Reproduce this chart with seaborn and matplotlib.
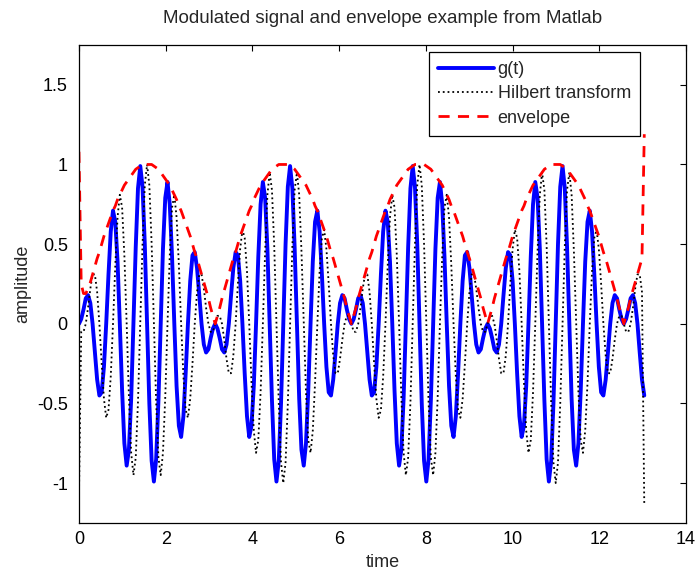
import matplotlib
matplotlib.use("Agg")
import matplotlib.pyplot as plt
import seaborn as sns

# sample times
t = [0.000, 0.052, 0.105, 0.157, 0.209, 0.262, 0.314, 0.367, 0.419, 0.471, 0.524, 0.576,
     0.628, 0.681, 0.733, 0.785, 0.838, 0.890, 0.942, 0.995, 1.047, 1.100, 1.152, 1.204,
     1.257, 1.309, 1.361, 1.414, 1.466, 1.518, 1.571, 1.623, 1.676, 1.728, 1.780, 1.833,
     1.885, 1.937, 1.990, 2.042, 2.094, 2.147, 2.199, 2.251, 2.304, 2.356, 2.409, 2.461,
     2.513, 2.566, 2.618, 2.670, 2.723, 2.775, 2.827, 2.880, 2.932, 2.985, 3.037, 3.089,
     3.142, 3.194, 3.246, 3.299, 3.351, 3.403, 3.456, 3.508, 3.560, 3.613, 3.665, 3.718,
     3.770, 3.822, 3.875, 3.927, 3.979, 4.032, 4.084, 4.136, 4.189, 4.241, 4.294, 4.346,
     4.398, 4.451, 4.503, 4.555, 4.608, 4.660, 4.712, 4.765, 4.817, 4.869, 4.922, 4.974,
     5.027, 5.079, 5.131, 5.184, 5.236, 5.288, 5.341, 5.393, 5.445, 5.498, 5.550, 5.603,
     5.655, 5.707, 5.760, 5.812, 5.864, 5.917, 5.969, 6.021, 6.074, 6.126, 6.178, 6.231,
     6.283, 6.336, 6.388, 6.440, 6.493, 6.545, 6.597, 6.650, 6.702, 6.754, 6.807, 6.859,
     6.912, 6.964, 7.016, 7.069, 7.121, 7.173, 7.226, 7.278, 7.330, 7.383, 7.435, 7.487,
     7.540, 7.592, 7.645, 7.697, 7.749, 7.802, 7.854, 7.906, 7.959, 8.011, 8.063, 8.116,
     8.168, 8.221, 8.273, 8.325, 8.378, 8.430, 8.482, 8.535, 8.587, 8.639, 8.692, 8.744,
     8.796, 8.849, 8.901, 8.954, 9.006, 9.058, 9.111, 9.163, 9.215, 9.268, 9.320, 9.372,
     9.425, 9.477, 9.529, 9.582, 9.634, 9.687, 9.739, 9.791, 9.844, 9.896, 9.948, 10.001,
     10.053, 10.105, 10.158, 10.210, 10.263, 10.315, 10.367, 10.420, 10.472, 10.524, 10.577, 10.629,
     10.681, 10.734, 10.786, 10.838, 10.891, 10.943, 10.996, 11.048, 11.100, 11.153, 11.205, 11.257,
     11.310, 11.362, 11.414, 11.467, 11.519, 11.572, 11.624, 11.676, 11.729, 11.781, 11.833, 11.886,
     11.938, 11.990, 12.043, 12.095, 12.148, 12.200, 12.252, 12.305, 12.357, 12.409, 12.462, 12.514,
     12.566, 12.619, 12.671, 12.723, 12.776, 12.828, 12.881, 12.933, 12.985, 13.038]

# modulated signal g(t)
g = [0, .03, .09, .16, .18, .13, 0, -.18, -.35, -.45, -.43, -.27,
     0, .31, .58, .71, .64, .39, 0, -.42, -.75, -.89, -.79, -.47,
     0, .48, .85, .99, .86, .50, 0, -.50, -.86, -.99, -.85, -.48,
     0, .47, .79, .89, .75, .42, 0, -.39, -.64, -.71, -.58, -.31,
     0, .27, .43, .45, .35, .18, 0, -.13, -.18, -.16, -.09, -.03,
     0, -.03, -.09, -.16, -.18, -.13, 0, .18, .35, .45, .43, .27,
     0, -.31, -.58, -.71, -.64, -.39, 0, .42, .75, .89, .79, .47,
     0, -.48, -.85, -.99, -.86, -.50, 0, .50, .86, .99, .85, .48,
     0, -.47, -.79, -.89, -.75, -.42, 0, .39, .64, .71, .58, .31,
     0, -.27, -.43, -.45, -.35, -.18, 0, .13, .18, .16, .09, .03,
     0, .03, .09, .16, .18, .13, 0, -.18, -.35, -.45, -.43, -.27,
     0, .31, .58, .71, .64, .39, 0, -.42, -.75, -.89, -.79, -.47,
     0, .48, .85, .99, .86, .50, 0, -.50, -.86, -.99, -.85, -.48,
     0, .47, .79, .89, .75, .42, 0, -.39, -.64, -.71, -.58, -.31,
     0, .27, .43, .45, .35, .18, 0, -.13, -.18, -.16, -.09, -.03,
     0, -.03, -.09, -.16, -.18, -.13, 0, .18, .35, .45, .43, .27,
     0, -.31, -.58, -.71, -.64, -.39, 0, .42, .75, .89, .79, .47,
     0, -.48, -.85, -.99, -.86, -.50, 0, .50, .86, .99, .85, .48,
     0, -.47, -.79, -.89, -.75, -.42, 0, .39, .64, .71, .58, .31,
     0, -.27, -.43, -.45, -.35, -.18, 0, .13, .18, .16, .09, .03,
     0, .03, .09, .16, .18, .13, 0, -.18, -.35, -.45]

# Hilbert transform (with the edge effects at both ends)
hilb = [-1.08, -.05, -.05, 0, .10, .22, .31, .31, .20, 0, -.25, -.47,
        -.59, -.54, -.33, 0, .37, .67, .81, .73, .43, 0, -.46, -.81,
        -.95, -.84, -.49, 0, .50, .87, 1.0, .87, .50, 0, -.49, -.84,
        -.95, -.81, -.46, 0, .43, .73, .81, .67, .37, 0, -.33, -.54,
        -.59, -.47, -.25, 0, .20, .31, .31, .22, .10, 0, -.05, -.05,
        0, .05, .05, 0, -.10, -.22, -.31, -.31, -.20, 0, .25, .47,
        .59, .54, .33, 0, -.37, -.67, -.81, -.73, -.43, 0, .46, .81,
        .95, .84, .49, 0, -.50, -.87, -1.0, -.87, -.50, 0, .49, .84,
        .95, .81, .46, 0, -.43, -.73, -.81, -.67, -.37, 0, .33, .54,
        .59, .47, .25, 0, -.20, -.31, -.31, -.22, -.10, 0, .05, .05,
        0, -.05, -.05, 0, .10, .22, .31, .31, .20, 0, -.25, -.47,
        -.59, -.54, -.33, 0, .37, .67, .81, .73, .43, 0, -.46, -.81,
        -.95, -.84, -.49, 0, .50, .87, 1.0, .87, .50, 0, -.49, -.84,
        -.95, -.81, -.46, 0, .43, .73, .81, .67, .37, 0, -.33, -.54,
        -.59, -.47, -.25, 0, .20, .31, .31, .22, .10, 0, -.05, -.05,
        0, .05, .05, 0, -.10, -.22, -.31, -.31, -.20, 0, .25, .47,
        .59, .54, .33, 0, -.37, -.67, -.81, -.73, -.43, 0, .46, .81,
        .95, .84, .49, 0, -.50, -.87, -1.0, -.87, -.50, 0, .49, .84,
        .95, .81, .46, 0, -.43, -.73, -.81, -.67, -.37, 0, .33, .54,
        .59, .47, .25, 0, -.20, -.31, -.31, -.22, -.10, 0, .05, .05,
        0, -.05, -.05, 0, .10, .22, .31, .31, .20, -1.14]

# envelope
env = [1.08, .25, .19, .19, .22, .26, .31, .36, .41, .45, .50, .55,
       .59, .63, .67, .71, .74, .78, .81, .84, .87, .89, .91, .93,
       .95, .97, .98, .99, 1.0, 1.0, 1.0, 1.0, 1.0, .99, .98, .97,
       .95, .93, .91, .89, .87, .84, .81, .78, .74, .71, .67, .63,
       .59, .55, .50, .45, .41, .36, .31, .26, .21, .16, .10, .05,
       0, .05, .10, .16, .21, .26, .31, .36, .41, .45, .50, .55,
       .59, .63, .67, .71, .74, .78, .81, .84, .87, .89, .91, .93,
       .95, .97, .98, .99, 1.0, 1.0, 1.0, 1.0, 1.0, .99, .98, .97,
       .95, .93, .91, .89, .87, .84, .81, .78, .74, .71, .67, .63,
       .59, .55, .50, .45, .41, .36, .31, .26, .21, .16, .10, .05,
       0, .05, .10, .16, .21, .26, .31, .36, .41, .45, .50, .55,
       .59, .63, .67, .71, .74, .78, .81, .84, .87, .89, .91, .93,
       .95, .97, .98, .99, 1.0, 1.0, 1.0, 1.0, 1.0, .99, .98, .97,
       .95, .93, .91, .89, .87, .84, .81, .78, .74, .71, .67, .63,
       .59, .55, .50, .45, .41, .36, .31, .26, .21, .16, .10, .05,
       0, .05, .10, .16, .21, .26, .31, .36, .41, .45, .50, .55,
       .59, .63, .67, .71, .74, .78, .81, .84, .87, .89, .91, .93,
       .95, .97, .98, .99, 1.0, 1.0, 1.0, 1.0, 1.0, .99, .98, .97,
       .95, .93, .91, .89, .87, .84, .81, .78, .74, .71, .67, .63,
       .59, .55, .50, .45, .41, .36, .31, .26, .21, .16, .10, .05,
       0, .05, .10, .16, .21, .26, .31, .36, .41, 1.19]

x_ticks = [0, 2, 4, 6, 8, 10, 12, 14]
y_ticks = [-1, -0.5, 0, 0.5, 1, 1.5]
y_tick_labels = ["-1", "-0.5", "0", "0.5", "1", "1.5"]

sns.set_style("white")
plt.rcParams['font.family'] = ['Liberation Sans', 'DejaVu Sans']

fig = plt.figure(figsize=(6.97, 5.73), dpi=100)
ax = fig.add_axes([0.1133, 0.0873, 0.8709, 0.8342])

sns.lineplot(x=t, y=g, color='#0000ff', lw=2.8, label='g(t)', ax=ax)
sns.lineplot(x=t, y=hilb, color='black', lw=1.3, linestyle=':',
             label='Hilbert transform', ax=ax)
sns.lineplot(x=t, y=env, color='#ff0000', lw=2.0, linestyle=(0, (4, 3)),
             label='envelope', ax=ax)

ax.set_xlim(0, 14)
ax.set_ylim(-1.25, 1.75)
ax.set_xticks(x_ticks)
ax.set_yticks(y_ticks)
ax.set_yticklabels(y_tick_labels)
ax.tick_params(direction='in', top=True, right=True, length=4, width=0.8,
               labelsize=13, colors='black')
ax.tick_params(axis='x', pad=6)
ax.tick_params(axis='y', pad=8)
for sp in ax.spines.values():
    sp.set_color('black')
    sp.set_linewidth(0.9)

ax.set_title('Modulated signal and envelope example from Matlab',
             fontsize=13.5, pad=16)
ax.set_xlabel('time', fontsize=13)
ax.set_ylabel('amplitude', fontsize=13)

leg = ax.legend(loc='upper right', bbox_to_anchor=(0.924, 0.985),
                borderaxespad=0, fontsize=13, handlelength=3.1,
                handletextpad=0.2, labelspacing=0.4, borderpad=0.5,
                fancybox=False, framealpha=1, edgecolor='black')
leg.get_frame().set_linewidth(0.9)

fig.savefig('out.png', dpi=100)
